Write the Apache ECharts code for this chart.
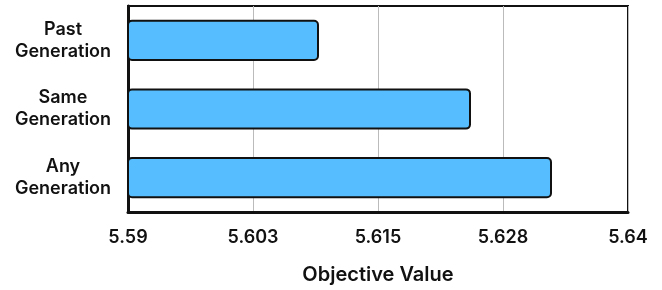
<!DOCTYPE html>
<html>
<head>
<meta charset="utf-8">
<script src="https://cdn.jsdelivr.net/npm/echarts@6/dist/echarts.min.js"></script>
<style>
  html, body { margin: 0; padding: 0; background: #fff; }
  #chart { width: 662px; height: 290px; }
</style>
</head>
<body>
<div id="chart"></div>
<script>
// 类别和数值
var categories = ['Past Generation', 'Same Generation', 'Any Generation'];
var objectiveValues = [5.6091, 5.6243, 5.6324];
var xTickLabels = ['5.59', '5.603', '5.615', '5.628', '5.64'];

var fontFamily = 'Inter, "Liberation Sans", Arial, sans-serif';

var myChart = echarts.init(document.getElementById('chart'));

var option = {
    animation: false,
    grid: {
        left: 128, right: 34, top: 6, bottom: 77,
        show: true, borderColor: '#111', borderWidth: 2
    },
    xAxis: {
        type: 'value',
        min: 5.59, max: 5.64, interval: 0.0125,
        name: 'Objective Value',
        nameLocation: 'middle',
        nameGap: 53,
        nameTextStyle: { fontFamily: fontFamily, fontSize: 20, fontWeight: 600, color: '#111' },
        axisLine: { show: true, lineStyle: { color: '#111', width: 3 } },
        axisTick: { show: false },
        axisLabel: {
            margin: 17,
            fontFamily: fontFamily, fontSize: 18, fontWeight: 600, color: '#111',
            formatter: function (v, i) { return xTickLabels[i]; }
        },
        splitLine: { show: true, lineStyle: { color: '#bbb', width: 1 } }
    },
    yAxis: {
        type: 'category',
        data: categories,
        inverse: true,
        axisLine: { show: true, lineStyle: { color: '#111', width: 3 } },
        axisTick: { show: false },
        axisLabel: {
            margin: 65,
            align: 'center',
            lineHeight: 22,
            fontFamily: fontFamily, fontSize: 18, fontWeight: 600, color: '#111',
            formatter: function (v) { return v.replace(' ', '\n'); }
        },
        splitLine: { show: false }
    },
    series: [{
        type: 'bar',
        data: objectiveValues,
        barWidth: '60%',
        itemStyle: {
            color: '#56BEFE',
            borderColor: '#111',
            borderWidth: 2,
            borderRadius: 4
        }
    }]
};

myChart.setOption(option);
</script>
</body>
</html>
